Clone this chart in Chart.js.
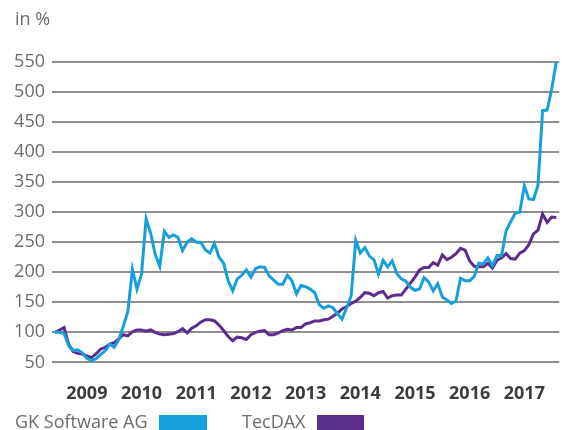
<!DOCTYPE html>
<html>
<head>
<meta charset="utf-8">
<script src="https://cdn.jsdelivr.net/npm/chart.js@4/dist/chart.umd.min.js"></script>
<style>
  html, body { margin: 0; padding: 0; background: #fff; }
  #wrap { position: relative; width: 563px; height: 430px; font-family: 'Open Sans', sans-serif; }
  .txt { position: absolute; font-size: 18px; line-height: 18px; color: #6c6c6c; white-space: nowrap; }
  .sw { position: absolute; height: 15px; }
</style>
</head>
<body>
<div id="wrap">
  <canvas id="chart"></canvas>
  <div class="txt" style="left:15px; top:9px;">in %</div>
  <div class="txt" id="lab1" style="left:15px; top:412px;"></div>
  <div class="sw" id="sw1" style="left:159px; top:415px; width:48px;"></div>
  <div class="txt" id="lab2" style="left:242px; top:412px;"></div>
  <div class="sw" id="sw2" style="left:317px; top:415px; width:47px;"></div>
</div>
<script>
// Monatswerte ab Dez. 2008 (Index = 100)
const gkSoftware = [
    100, 100, 98, 78, 70, 71, 66, 57, 53, 56, 63, 69,
    80, 75, 88, 110, 135, 205, 172, 197, 289, 265, 230, 210,
    268, 258, 262, 258, 236, 250, 256, 250, 250, 237, 232, 248,
    225, 215, 186, 169, 189, 195, 204, 192, 206, 209, 208, 194,
    187, 180, 180, 195, 186, 164, 178, 176, 172, 166, 146, 140,
    144, 141, 131, 122, 141, 161, 253, 232, 241, 227, 221, 197,
    220, 209, 219, 198, 189, 185, 175, 170, 172, 191, 184, 169,
    181, 159, 154, 148, 152, 190, 186, 186, 193, 215, 214, 224,
    211, 228, 228, 269, 284, 298, 300, 344, 322, 321, 345, 469,
    470, 505, 550,
];
const tecDax = [
    100, 104, 108, 80, 68, 65, 64, 61, 58, 64, 72, 75,
    80, 83, 89, 96, 94, 101, 104, 104, 102, 104, 100, 97,
    96, 97, 98, 101, 106, 99, 107, 111, 117, 121, 121, 119,
    112, 103, 93, 86, 92, 91, 88, 96, 100, 102, 103, 96,
    96, 99, 103, 105, 104, 108, 108, 114, 116, 119, 119, 121,
    122, 127, 132, 139, 143, 148, 152, 158, 166, 165, 161, 166,
    168, 157, 161, 162, 162, 172, 182, 192, 204, 208, 208, 216,
    212, 229, 221, 225, 231, 240, 237, 219, 210, 209, 209, 215,
    207, 220, 224, 231, 223, 222, 232, 236, 246, 264, 270, 297,
    283, 292, 291,
];
const years = ['2009', '2010', '2011', '2012', '2013', '2014', '2015', '2016', '2017'];
const yTicks = [50, 100, 150, 200, 250, 300, 350, 400, 450, 500, 550];
const seriesNames = ['GK Software AG', 'TecDAX'];
const colors = ['#179fdb', '#5b2d8d'];

// Jahreslabel jeweils im Juli (Index 0 = Dez. 2008)
const julyIndex = years.map((y, i) => 7 + 12 * i);

function toPoints(values) {
    return values.map((v, i) => ({ x: i, y: v }));
}

document.getElementById('lab1').textContent = seriesNames[0];
document.getElementById('lab2').textContent = seriesNames[1];
document.getElementById('sw1').style.background = colors[0];
document.getElementById('sw2').style.background = colors[1];

const ctx = document.getElementById('chart').getContext('2d');
const chart = new Chart(ctx, {
    type: 'line',
    data: {
        datasets: [
            {
                label: seriesNames[0],
                data: toPoints(gkSoftware),
                borderColor: colors[0],
                borderWidth: 3,
                pointRadius: 0,
                tension: 0,
            },
            {
                label: seriesNames[1],
                data: toPoints(tecDax),
                borderColor: colors[1],
                borderWidth: 3,
                pointRadius: 0,
                tension: 0,
            },
        ],
    },
    options: {
        responsive: true,
        maintainAspectRatio: false,
        animation: false,
        layout: {
            padding: { top: 59, right: 1, bottom: 7, left: 0 },
        },
        plugins: {
            legend: { display: false },
            tooltip: { enabled: false },
        },
        scales: {
            x: {
                type: 'linear',
                min: -0.65,
                max: 110.65,
                grid: { display: false, drawTicks: false },
                border: { display: false },
                afterBuildTicks: axis => {
                    axis.ticks = julyIndex.map(v => ({ value: v }));
                },
                ticks: {
                    autoSkip: false,
                    maxRotation: 0,
                    padding: 18,
                    color: '#3c3c3c',
                    font: { family: 'Open Sans', size: 18, weight: 'bold' },
                    callback: (value, index) => years[index],
                },
            },
            y: {
                min: 45,
                max: 555,
                grid: { color: '#8e8e8e', lineWidth: 2, drawTicks: false },
                border: { display: false },
                afterBuildTicks: axis => {
                    axis.ticks = yTicks.map(v => ({ value: v }));
                },
                afterFit: axis => {
                    axis.width = 52;
                },
                ticks: {
                    padding: 7,
                    color: '#6c6c6c',
                    font: { family: 'Open Sans', size: 18 },
                },
            },
        },
    },
});
</script>
</body>
</html>
